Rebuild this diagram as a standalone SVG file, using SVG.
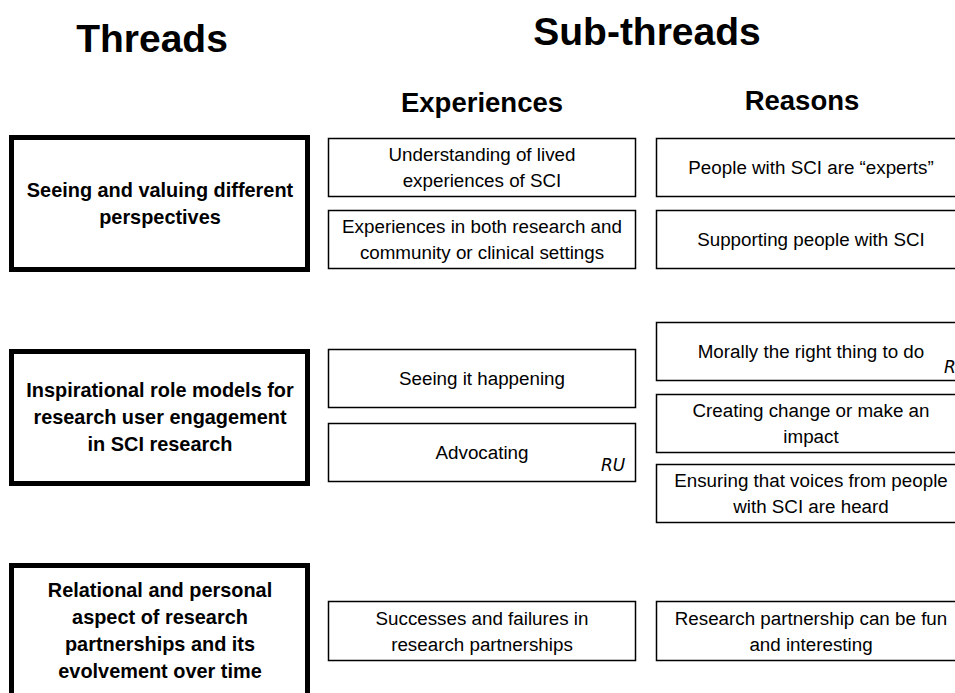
<svg xmlns="http://www.w3.org/2000/svg" width="955" height="693" viewBox="0 0 955 693">
<style>
text{font-family:"Liberation Sans",Arial,sans-serif;fill:#000;text-anchor:middle}
.h1{font-size:39px;font-weight:bold}
.h2{font-size:27.5px;font-weight:bold}
.th{font-size:19.9px;font-weight:bold}
.b{font-size:18.8px}
.thread{fill:#fff;stroke:#000;stroke-width:5}
.box{fill:#fff;stroke:#000;stroke-width:1.5}
.ru{font-size:17px;font-style:italic;font-family:"DejaVu Sans","Liberation Sans",sans-serif;text-anchor:start}
</style>
<rect width="955" height="693" fill="#fff"/>
<g id="headers">
<text class="h1" x="152" y="52">Threads</text>
<text class="h1" x="647" y="45">Sub-threads</text>
<text class="h2" x="482" y="112">Experiences</text>
<text class="h2" x="802" y="110">Reasons</text>
</g>
<g id="thread1"><rect class="thread" x="11.5" y="137.5" width="296" height="132"/>
<text class="th" x="160" y="197">Seeing and valuing different</text>
<text class="th" x="160" y="224">perspectives</text></g>
<g id="thread2"><rect class="thread" x="11.5" y="351.5" width="296" height="132"/>
<text class="th" x="160" y="397">Inspirational role models for</text>
<text class="th" x="160" y="424">research user engagement</text>
<text class="th" x="160" y="451">in SCI research</text></g>
<g id="thread3"><rect class="thread" x="11.5" y="565.5" width="296" height="140"/>
<text class="th" x="160" y="597">Relational and personal</text>
<text class="th" x="160" y="624">aspect of research</text>
<text class="th" x="160" y="651">partnerships and its</text>
<text class="th" x="160" y="678">evolvement over time</text></g>
<g id="exp1"><rect class="box" x="328.5" y="138.5" width="307" height="58"/>
<text class="b" x="482" y="161">Understanding of lived</text>
<text class="b" x="482" y="187">experiences of SCI</text></g>
<g id="exp2"><rect class="box" x="328.5" y="210.5" width="307" height="58"/>
<text class="b" x="482" y="233">Experiences in both research and</text>
<text class="b" x="482" y="259">community or clinical settings</text></g>
<g id="exp3"><rect class="box" x="328.5" y="349.5" width="307" height="58"/>
<text class="b" x="482" y="385">Seeing it happening</text></g>
<g id="exp4"><rect class="box" x="328.5" y="423.5" width="307" height="58"/>
<text class="b" x="482" y="459">Advocating</text>
<text class="ru" x="601" y="471">RU</text></g>
<g id="exp5"><rect class="box" x="328.5" y="601.5" width="307" height="59"/>
<text class="b" x="482" y="625">Successes and failures in</text>
<text class="b" x="482" y="651">research partnerships</text></g>
<g id="rea1"><rect class="box" x="656.5" y="138.5" width="310" height="58"/>
<text class="b" x="811" y="174">People with SCI are “experts”</text></g>
<g id="rea2"><rect class="box" x="656.5" y="210.5" width="310" height="58"/>
<text class="b" x="811" y="246">Supporting people with SCI</text></g>
<g id="rea3"><rect class="box" x="656.5" y="322.5" width="310" height="58"/>
<text class="b" x="811" y="358">Morally the right thing to do</text>
<text class="ru" x="944" y="373">R</text></g>
<g id="rea4"><rect class="box" x="656.5" y="394.5" width="310" height="58"/>
<text class="b" x="811" y="417">Creating change or make an</text>
<text class="b" x="811" y="443">impact</text></g>
<g id="rea5"><rect class="box" x="656.5" y="464.5" width="310" height="58"/>
<text class="b" x="811" y="487">Ensuring that voices from people</text>
<text class="b" x="811" y="513">with SCI are heard</text></g>
<g id="rea6"><rect class="box" x="656.5" y="601.5" width="310" height="59"/>
<text class="b" x="811" y="625">Research partnership can be fun</text>
<text class="b" x="811" y="651">and interesting</text></g>
<g id="connectors"></g>
</svg>
